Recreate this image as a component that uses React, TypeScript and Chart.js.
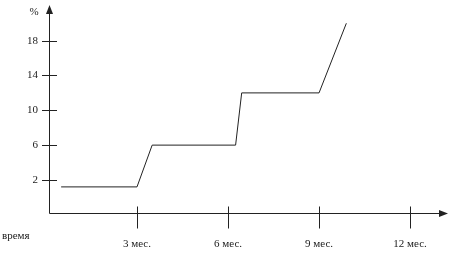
import React, { useEffect, useRef } from "react";
import { Chart, registerables } from "chart.js";

Chart.register(...registerables);

// Data
const monthValues = [0.5, 3, 3.5, 6.25, 6.45, 9, 9.9];
const percentValues = [1.2, 1.2, 6, 6, 12, 12, 20];
const xTickMonths = [3, 6, 9, 12];
const xTickLabels = ["3 мес.", "6 мес.", "9 мес.", "12 мес."];
const yTickValues = [2, 6, 10, 14, 18];
const yAxisTitle = "%";
const xAxisTitle = "время";

const FONT = "'Liberation Serif', 'Times New Roman', serif";
const INK = "#222";

const axesPlugin = {
  id: "schematicAxes",
  afterDraw(chart: any) {
    const { ctx, chartArea, scales } = chart;
    const xs = scales.x;
    const ys = scales.y;
    const ax = Math.round(chartArea.left) + 0.5;
    const ay = Math.round(chartArea.bottom) + 0.5;
    ctx.save();
    ctx.strokeStyle = INK;
    ctx.fillStyle = INK;
    ctx.lineWidth = 1;
    // y axis
    ctx.beginPath();
    ctx.moveTo(ax, ay);
    ctx.lineTo(ax, chartArea.top + 8);
    ctx.stroke();
    ctx.beginPath();
    ctx.moveTo(ax, chartArea.top);
    ctx.lineTo(ax - 3.5, chartArea.top + 9);
    ctx.lineTo(ax + 3.5, chartArea.top + 9);
    ctx.closePath();
    ctx.fill();
    // x axis
    ctx.beginPath();
    ctx.moveTo(ax, ay);
    ctx.lineTo(chartArea.right - 8, ay);
    ctx.stroke();
    ctx.beginPath();
    ctx.moveTo(chartArea.right, ay);
    ctx.lineTo(chartArea.right - 9, ay - 3.5);
    ctx.lineTo(chartArea.right - 9, ay + 3.5);
    ctx.closePath();
    ctx.fill();
    // y tick marks
    ys.ticks.forEach((t: any) => {
      const py = Math.round(ys.getPixelForValue(t.value)) + 0.5;
      ctx.beginPath();
      ctx.moveTo(ax - 7.5, py);
      ctx.lineTo(ax + 7.5, py);
      ctx.stroke();
    });
    // x tick marks
    xs.ticks.forEach((t: any) => {
      const px = Math.round(xs.getPixelForValue(t.value)) + 0.5;
      ctx.beginPath();
      ctx.moveTo(px, ay - 7);
      ctx.lineTo(px, ay + 15);
      ctx.stroke();
    });
    // titles
    ctx.font = `11px ${FONT}`;
    ctx.textBaseline = "middle";
    ctx.textAlign = "center";
    ctx.fillText(yAxisTitle, 34, 12);
    ctx.textAlign = "left";
    ctx.fillText(xAxisTitle, 2, 236);
    ctx.restore();
  },
};

export default function App() {
  const ref = useRef<HTMLCanvasElement | null>(null);
  useEffect(() => {
    document.body.style.margin = "0";
    const canvas = ref.current;
    if (!canvas) return;
    const chart = new Chart(canvas, {
      type: "line",
      data: {
        datasets: [
          {
            data: monthValues.map((m, i) => ({ x: m, y: percentValues[i] })),
            borderColor: INK,
            borderWidth: 1,
            pointRadius: 0,
            tension: 0,
            fill: false,
          },
        ],
      },
      options: {
        responsive: false,
        animation: false,
        events: [],
        layout: { padding: { top: 5, right: 6, left: 0, bottom: 0 } },
        plugins: { legend: { display: false }, tooltip: { enabled: false } },
        scales: {
          x: {
            type: "linear",
            min: 0.1,
            max: 13.25,
            grid: { display: false, drawTicks: false },
            border: { display: false },
            afterBuildTicks: (scale: any) => {
              scale.ticks = xTickMonths.map((v) => ({ value: v }));
            },
            afterFit: (scale: any) => {
              scale.height = 40;
              scale.paddingLeft = 0;
              scale.paddingRight = 0;
              scale.paddingTop = 0;
              scale.paddingBottom = 0;
            },
            ticks: {
              autoSkip: false,
              maxRotation: 0,
              padding: 25,
              color: INK,
              font: { family: FONT, size: 11 },
              callback: (_v: any, i: number) => xTickLabels[i],
            },
          },
          y: {
            type: "linear",
            min: -1.8,
            max: 22.1,
            grid: { display: false, drawTicks: false },
            border: { display: false },
            afterBuildTicks: (scale: any) => {
              scale.ticks = yTickValues.map((v) => ({ value: v }));
            },
            afterFit: (scale: any) => {
              scale.width = 49;
              scale.paddingLeft = 0;
              scale.paddingRight = 0;
              scale.paddingTop = 0;
              scale.paddingBottom = 0;
            },
            ticks: {
              autoSkip: false,
              padding: 11,
              color: INK,
              font: { family: FONT, size: 11 },
              callback: (v: any) => String(v),
            },
          },
        },
      },
      plugins: [axesPlugin],
    });
    return () => chart.destroy();
  }, []);
  return (
    <div style={{ width: 454, height: 253, background: "#fff" }}>
      <canvas ref={ref} width={454} height={253} style={{ display: "block" }} />
    </div>
  );
}
